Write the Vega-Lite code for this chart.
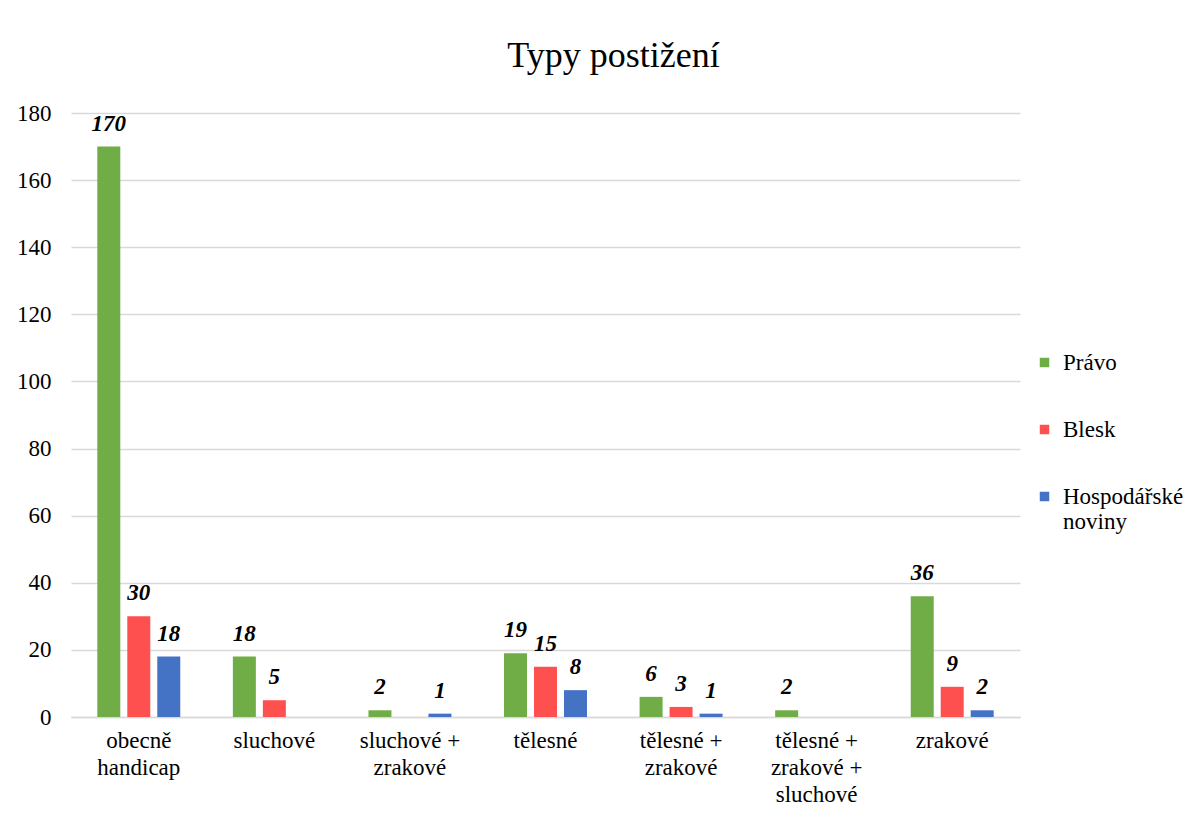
{
  "$schema": "https://vega.github.io/schema/vega-lite/v6.json",
  "width": 949,
  "height": 604,
  "padding": {"left": 16, "top": 38, "right": 10, "bottom": 10},
  "background": "white",
  "config": {
    "font": "Liberation Serif",
    "view": {"stroke": null}
  },
  "title": {
    "text": "Typy postižení",
    "fontSize": 36,
    "fontWeight": "normal",
    "font": "Liberation Serif",
    "color": "#000000",
    "offset": 27,
    "dx": 68
  },
  "data": {
    "values": [
      {"cat": "obecně handicap", "series": "Právo", "value": 170},
      {"cat": "obecně handicap", "series": "Blesk", "value": 30},
      {"cat": "obecně handicap", "series": "Hospodářské noviny", "value": 18},
      {"cat": "sluchové", "series": "Právo", "value": 18},
      {"cat": "sluchové", "series": "Blesk", "value": 5},
      {"cat": "sluchové + zrakové", "series": "Právo", "value": 2},
      {"cat": "sluchové + zrakové", "series": "Hospodářské noviny", "value": 1},
      {"cat": "tělesné", "series": "Právo", "value": 19},
      {"cat": "tělesné", "series": "Blesk", "value": 15},
      {"cat": "tělesné", "series": "Hospodářské noviny", "value": 8},
      {"cat": "tělesné + zrakové", "series": "Právo", "value": 6},
      {"cat": "tělesné + zrakové", "series": "Blesk", "value": 3},
      {"cat": "tělesné + zrakové", "series": "Hospodářské noviny", "value": 1},
      {"cat": "tělesné + zrakové + sluchové", "series": "Právo", "value": 2},
      {"cat": "zrakové", "series": "Právo", "value": 36},
      {"cat": "zrakové", "series": "Blesk", "value": 9},
      {"cat": "zrakové", "series": "Hospodářské noviny", "value": 2}
    ]
  },
  "encoding": {
    "x": {
      "field": "cat",
      "type": "nominal",
      "sort": ["obecně handicap", "sluchové", "sluchové + zrakové", "tělesné", "tělesné + zrakové", "tělesné + zrakové + sluchové", "zrakové"],
      "scale": {
        "domain": ["obecně handicap", "sluchové", "sluchové + zrakové", "tělesné", "tělesné + zrakové", "tělesné + zrakové + sluchové", "zrakové"],
        "paddingInner": 0,
        "paddingOuter": 0
      },
      "axis": {
        "title": null,
        "labelAngle": 0,
        "labelFontSize": 23,
        "labelColor": "#000000",
        "labelFont": "Liberation Serif",
        "labelPadding": 12,
        "labelLineHeight": 27,
        "labelBaseline": "top",
        "ticks": false,
        "tickSize": 0,
        "domainColor": "#d9d9d9",
        "domainWidth": 1.5,
        "labelLimit": 200,
        "labelExpr": "datum.value == 'obecně handicap' ? ['obecně', 'handicap'] : datum.value == 'sluchové + zrakové' ? ['sluchové +', 'zrakové'] : datum.value == 'tělesné + zrakové' ? ['tělesné +', 'zrakové'] : datum.value == 'tělesné + zrakové + sluchové' ? ['tělesné +', 'zrakové +', 'sluchové'] : datum.value"
      }
    },
    "xOffset": {
      "field": "series",
      "type": "nominal",
      "scale": {
        "domain": ["Právo", "Blesk", "Hospodářské noviny"],
        "paddingInner": 0.233,
        "paddingOuter": 0.877
      }
    },
    "y": {
      "field": "value",
      "type": "quantitative",
      "scale": {"domain": [0, 180]},
      "axis": {
        "title": null,
        "values": [0, 20, 40, 60, 80, 100, 120, 140, 160, 180],
        "labelFontSize": 23,
        "labelColor": "#000000",
        "labelFont": "Liberation Serif",
        "labelPadding": 20,
        "ticks": false,
        "tickSize": 0,
        "domain": false,
        "gridColor": "#d9d9d9",
        "gridWidth": 1.5
      }
    }
  },
  "layer": [
    {
      "mark": {"type": "bar"},
      "encoding": {
        "color": {
          "field": "series",
          "type": "nominal",
          "scale": {
            "domain": ["Právo", "Blesk", "Hospodářské noviny"],
            "range": ["#70AD47", "#FF5050", "#4472C4"]
          },
          "legend": {
            "title": null,
            "orient": "none",
            "legendX": 962,
            "legendY": 238,
            "symbolType": "square",
            "symbolSize": 90,
            "symbolStrokeWidth": 0,
            "labelFontSize": 23,
            "labelFont": "Liberation Serif",
            "labelColor": "#000000",
            "labelOffset": 7,
            "labelLimit": 200,
            "rowPadding": 43,
            "labelExpr": "datum.label == 'Hospodářské noviny' ? ['Hospodářské', 'noviny'] : datum.label"
          }
        }
      }
    },
    {
      "mark": {
        "type": "text",
        "fontSize": 23,
        "fontWeight": "bold",
        "fontStyle": "italic",
        "font": "Liberation Serif",
        "color": "#000000",
        "baseline": "alphabetic",
        "dy": -16
      },
      "encoding": {
        "text": {"field": "value", "type": "quantitative"}
      }
    }
  ]
}
